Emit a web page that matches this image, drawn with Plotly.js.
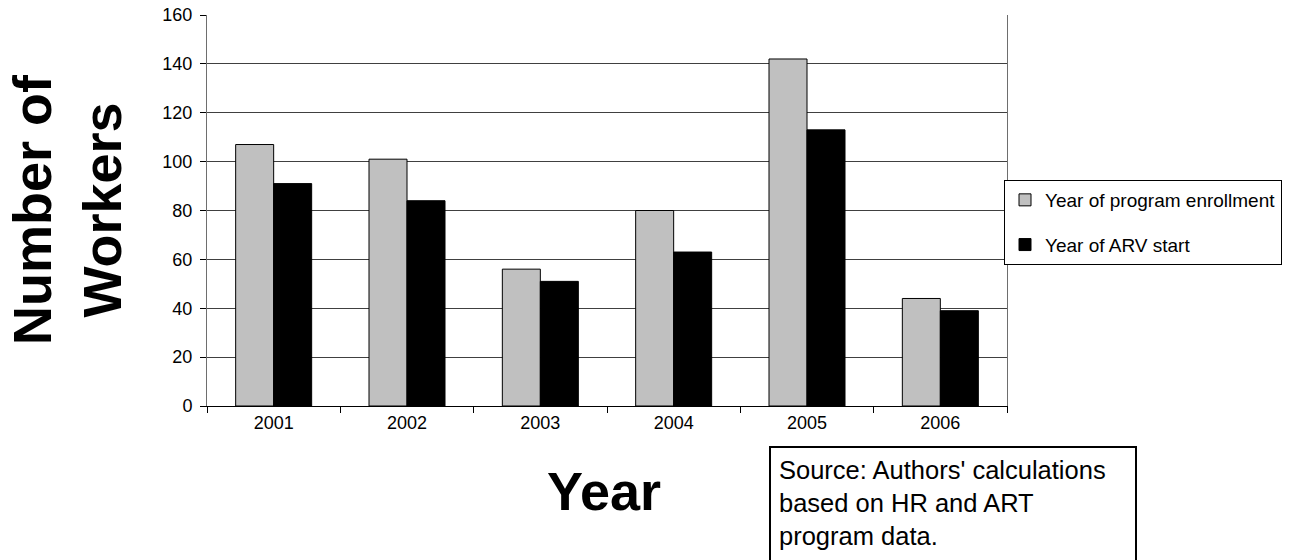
<!DOCTYPE html>
<html>
<head>
<meta charset="utf-8">
<script src="https://cdn.plot.ly/plotly-3.0.1.min.js"></script>
<style>
  html, body { margin: 0; padding: 0; background: #ffffff; }
  #chart { width: 1290px; height: 560px; }
</style>
</head>
<body>
<div id="chart"></div>
<script>
// ---- data ----
const years = ['2001', '2002', '2003', '2004', '2005', '2006'];
const enrollment = [107, 101, 56, 80, 142, 44];
const arvStart = [91, 84, 51, 63, 113, 39];
const seriesNames = ['Year of program enrollment', 'Year of ARV start'];
const yTicks = [0, 20, 40, 60, 80, 100, 120, 140, 160];

const FONT = 'Liberation Sans, Arial, Helvetica, sans-serif';

// plot area in pixels
const W = 1290, H = 560;
const L = 207, R = 1007, T = 15, B = 406;
const px = x => (x - L) / (R - L);
const py = y => (B - y) / (B - T);

const traces = [
  {
    type: 'bar', name: seriesNames[0], x: years, y: enrollment,
    marker: { color: '#c0c0c0', line: { color: '#000000', width: 1 } },
    legendgroup: 'a', hoverinfo: 'x+y'
  },
  {
    type: 'bar', name: seriesNames[1], x: years, y: arvStart,
    marker: { color: '#000000', line: { color: '#000000', width: 1 } },
    legendgroup: 'b', hoverinfo: 'x+y'
  }
];

const layout = {
  width: W, height: H,
  paper_bgcolor: '#ffffff', plot_bgcolor: '#ffffff',
  margin: { l: L, r: W - R, t: T, b: H - B, autoexpand: false },
  barmode: 'group', bargap: 0.43, bargroupgap: 0,
  font: { family: FONT, size: 18, color: '#000000' },
  showlegend: true,
  legend: {
    x: px(1004), xanchor: 'left', y: py(180), yanchor: 'top',
    bgcolor: '#ffffff', bordercolor: '#000000', borderwidth: 1,
    font: { family: FONT, size: 19, color: '#000000' },
    tracegroupgap: 17, traceorder: 'grouped'
  },
  xaxis: {
    type: 'category', categoryorder: 'array', categoryarray: years,
    showgrid: false, showline: true, linecolor: '#000000', linewidth: 1,
    ticks: 'outside', ticklen: 6, tickcolor: '#000000', tickson: 'boundaries',
    tickfont: { family: FONT, size: 18, color: '#000000' },
    zeroline: false, fixedrange: true
  },
  yaxis: {
    range: [0, 160], tickvals: yTicks, ticktext: yTicks.map(String),
    showgrid: true, gridcolor: '#404040', gridwidth: 1,
    showline: true, linecolor: '#6e6e6e', linewidth: 1, mirror: true,
    ticks: 'outside', ticklen: 6, tickcolor: '#000000',
    ticklabelstandoff: 4,
    tickfont: { family: FONT, size: 18, color: '#000000' },
    zeroline: false, fixedrange: true
  },
  annotations: [
    {
      text: 'Number of<br>Workers', textangle: -90,
      xref: 'paper', yref: 'paper', x: px(67), y: py(210),
      xanchor: 'center', yanchor: 'middle', showarrow: false,
      font: { family: FONT, size: 54, color: '#000000', weight: 'bold' }
    },
    {
      text: 'Year',
      xref: 'paper', yref: 'paper', x: px(604), y: py(491),
      xanchor: 'center', yanchor: 'middle', showarrow: false,
      font: { family: FONT, size: 54, color: '#000000', weight: 'bold' }
    },
    {
      text: "Source: Authors' calculations<br>based on HR and ART<br>program data.",
      xref: 'paper', yref: 'paper', x: px(769), y: py(446),
      xanchor: 'left', yanchor: 'top', align: 'left', valign: 'top',
      width: 1137 - 769 - 2 * 8 - 4, height: 140,
      borderpad: 8, bordercolor: '#000000', borderwidth: 2, bgcolor: '#ffffff',
      showarrow: false,
      font: { family: FONT, size: 25.5, color: '#000000' }
    }
  ]
};

Plotly.newPlot('chart', traces, layout, { displayModeBar: false, staticPlot: true });
</script>
</body>
</html>
